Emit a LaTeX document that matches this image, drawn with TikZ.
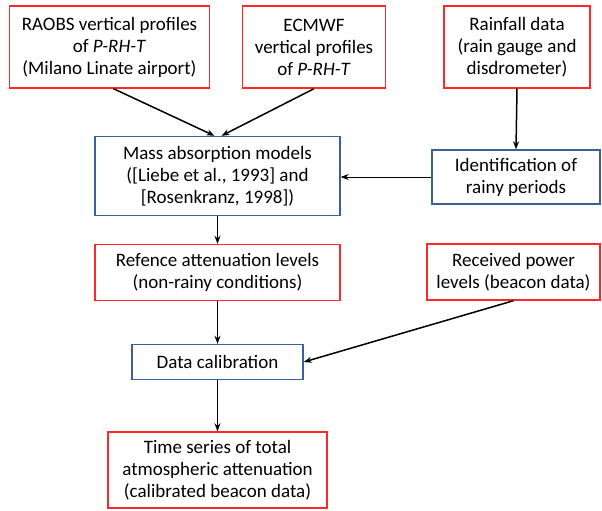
\documentclass[tikz,border=0pt]{standalone}
\usepackage{fontspec}
\setmainfont{Carlito}
\usepackage{tikz}
\usetikzlibrary{positioning}
\usetikzlibrary{arrows.meta}

\begin{document}
\begin{tikzpicture}
  [
    x=1pt, y=-1pt,
    box/.style={
       draw,
       line width=1.4pt,
       align=center,
       inner sep=0pt,
       font=\fontsize{19}{22}\selectfont
    },
    src/.style={
       box,
       draw={rgb,255:red,255;green,40;blue,40}
    },
    proc/.style={
       box,
       draw={rgb,255:red,60;green,95;blue,150}
    },
    ar/.style={
       draw=black,
       line width=1.5pt,
       -{Stealth[length=8pt,width=6pt]}
    }
  ]
  \useasboundingbox (0,0) rectangle (602,511);

  \node (raobs) at (109.5, 47) [src, minimum width=200, minimum height=82]
        {RAOBS vertical profiles\\of \textit{P-RH-T}\\(Milano Linate airport)};
  \node (ecmwf) at (314,   47) [src, minimum width=143, minimum height=82]
        {ECMWF\\vertical profiles\\of \textit{P-RH-T}};
  \node (rain)  at (517,   47) [src, minimum width=146, minimum height=82]
        {Rainfall data\\(rain gauge and\\disdrometer)};

  \node (mass)  at (217.5,176) [proc, minimum width=245, minimum height=79]
        {Mass absorption models\\([Liebe et al., 1993] and\\{[}Rosenkranz, 1998])};
  \node (ident) at (516,  177) [proc, minimum width=168, minimum height=54]
        {Identification of\\rainy periods};

  \node (ref)   at (217.5,272.5) [src, minimum width=245, minimum height=56]
        {Refence attenuation levels\\(non-rainy conditions)};
  \node (recv)  at (513.5,272) [src, minimum width=173, minimum height=56]
        {Received power\\levels (beacon data)};

  \node (cal)   at (217.5,362) [proc, minimum width=171, minimum height=35]
        {Data calibration};

  \node (ts)    at (217.5,470) [src, minimum width=219, minimum height=76]
        {Time series of total\\atmospheric attenuation\\(calibrated beacon data)};

  % connectors
  \draw [ar] ([xshift=4]raobs.south) -- ([xshift=-3]mass.north);
  \draw [ar] (ecmwf.south) -- ([xshift=4]mass.north);
  \draw [ar] (rain.south) -- (ident.north);
  \draw [ar, line width=0.9pt] (ident.west) -- (mass.east |- ident.west);
  \draw [ar] (mass.south) -- (ref.north);
  \draw [ar] (ref.south) -- (cal.north);
  \draw [ar] (recv.south) -- (cal.east);
  \draw [ar] (cal.south) -- (ts.north);
\end{tikzpicture}
\end{document}
